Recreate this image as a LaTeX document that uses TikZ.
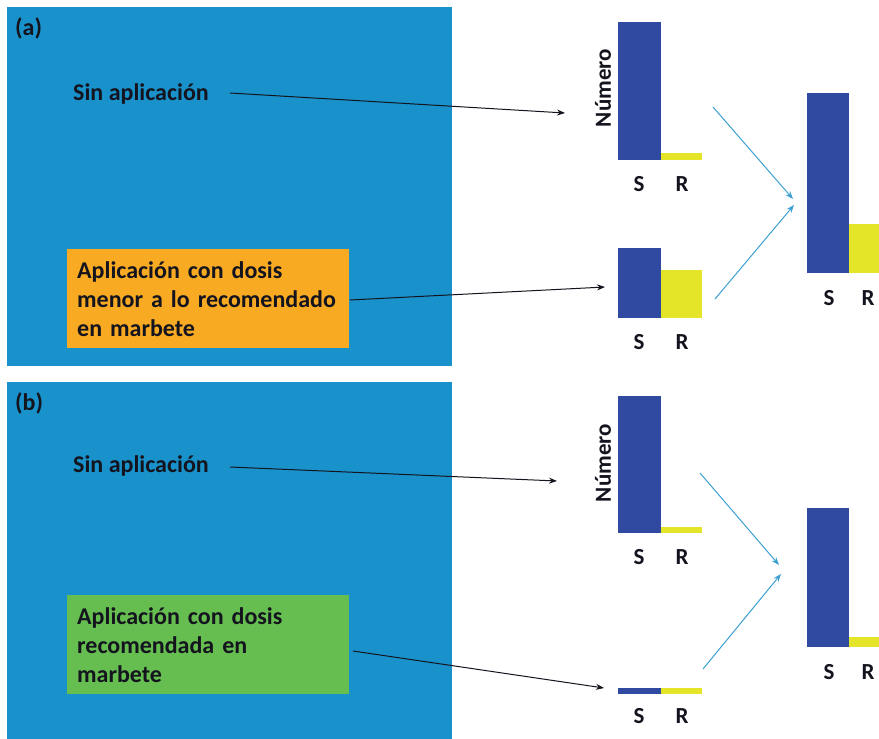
\documentclass[tikz,border=0pt]{standalone}
\usepackage{fontspec}
\setmainfont{Carlito}
\usetikzlibrary{arrows.meta}
\definecolor{panelblue}{RGB}{25,145,202}
\definecolor{barblue}{RGB}{47,74,160}
\definecolor{baryellow}{RGB}{228,228,40}
\definecolor{boxorange}{RGB}{248,170,35}
\definecolor{boxgreen}{RGB}{102,190,80}
\definecolor{arrowblue}{RGB}{60,160,210}
\definecolor{txt}{RGB}{20,20,30}
\tikzset{
  lbl/.style={font=\fontsize{24}{29}\selectfont\bfseries, text=txt, inner sep=0pt},
  panel/.style={fill=panelblue, draw=none},
  textbox/.style={lbl, minimum width=282pt, minimum height=99pt, text width=262pt, inner xsep=10pt, align=left, anchor=north west},
  sbar/.style={fill=barblue, inner sep=0pt, outer sep=0pt, anchor=south west, minimum width=43pt},
  rbar/.style={fill=baryellow, inner sep=0pt, outer sep=0pt, anchor=south west, minimum width=41pt},
  axlbl/.style={lbl, font=\fontsize{23}{26}\selectfont\bfseries},
  blackarrow/.style={draw=txt, line width=1pt, -{Stealth[length=8pt,width=6pt]}},
  bluearrow/.style={draw=arrowblue, line width=1pt, -{Stealth[length=8pt,width=6pt]}}
}
\begin{document}
\begin{tikzpicture}[x=1pt,y=-1pt]
\useasboundingbox (0,0) rectangle (879,739);
\fill[white] (0,0) rectangle (879,739);
% ---------- panel (a) ----------
\node[panel, minimum width=445pt, minimum height=359pt, anchor=north west, inner sep=0pt] (panA) at (7,7) {};
\node[lbl, anchor=west] (labA) at (15,28) {(a)};
\node[lbl, anchor=west] (sinA) at (73,94) {Sin aplicación};
\node[textbox, fill=boxorange] (boxA) at (67,249) {Aplicación con dosis\\menor a lo recomendado\\en marbete};
% small chart 1
\node[sbar, minimum height=138pt] (aS1) at (618,160) {};
\node[rbar, minimum height=7pt] (aR1) at (661,160) {};
\node[axlbl] (aSl1) at (639,184) {S};
\node[axlbl] (aRl1) at (682,184) {R};
\node[axlbl, rotate=90] (aNum) at (603,88) {Número};
% small chart 2
\node[sbar, minimum height=70pt] (aS2) at (618,318) {};
\node[rbar, minimum height=48pt] (aR2) at (661,318) {};
\node[axlbl] (aSl2) at (639,342) {S};
\node[axlbl] (aRl2) at (682,342) {R};
% big chart
\node[sbar, minimum width=42pt, minimum height=180pt] (aS3) at (807,273) {};
\node[rbar, minimum width=30pt, minimum height=49pt] (aR3) at (849,273) {};
\node[axlbl] (aSl3) at (829,298) {S};
\node[axlbl] (aRl3) at (868,298) {R};
% arrows
\coordinate (a1s) at (230,93);
\coordinate (a1e) at (565,113);
\coordinate (a2s) at (350,300);
\coordinate (a2e) at (605,287);
\draw[blackarrow] (a1s) -- (a1e);
\draw[blackarrow] (a2s) -- (a2e);
\coordinate (b1s) at (713,107);
\coordinate (b1e) at (793,199);
\coordinate (b2s) at (715,299);
\coordinate (b2e) at (794,205);
\draw[bluearrow] (b1s) -- (b1e);
\draw[bluearrow] (b2s) -- (b2e);
% ---------- panel (b) ----------
\node[panel, minimum width=445pt, minimum height=357pt, anchor=north west, inner sep=0pt] (panB) at (7,382) {};
\node[lbl, anchor=west] (labB) at (15,403) {(b)};
\node[lbl, anchor=west] (sinB) at (73,466) {Sin aplicación};
\node[textbox, fill=boxgreen] (boxB) at (67,595) {Aplicación con dosis\\recomendada en\\marbete};
% small chart 1
\node[sbar, minimum height=137pt] (bS1) at (618,533) {};
\node[rbar, minimum height=6pt] (bR1) at (661,533) {};
\node[axlbl] (bSl1) at (639,557) {S};
\node[axlbl] (bRl1) at (682,557) {R};
\node[axlbl, rotate=90] (bNum) at (603,463) {Número};
% small chart 2
\node[sbar, minimum height=6pt] (bS2) at (618,694) {};
\node[rbar, minimum height=6pt] (bR2) at (661,694) {};
\node[axlbl] (bSl2) at (639,716) {S};
\node[axlbl] (bRl2) at (682,716) {R};
% big chart
\node[sbar, minimum width=42pt, minimum height=139pt] (bS3) at (807,647) {};
\node[rbar, minimum width=30pt, minimum height=10pt] (bR3) at (849,647) {};
\node[axlbl] (bSl3) at (829,672) {S};
\node[axlbl] (bRl3) at (868,672) {R};
% arrows
\coordinate (c1s) at (230,467);
\coordinate (c1e) at (557,481);
\coordinate (c2s) at (353,651);
\coordinate (c2e) at (604,688);
\draw[blackarrow] (c1s) -- (c1e);
\draw[blackarrow] (c2s) -- (c2e);
\coordinate (d1s) at (700,473);
\coordinate (d1e) at (779,565);
\coordinate (d2s) at (703,669);
\coordinate (d2e) at (781,574);
\draw[bluearrow] (d1s) -- (d1e);
\draw[bluearrow] (d2s) -- (d2e);
\end{tikzpicture}
\end{document}
